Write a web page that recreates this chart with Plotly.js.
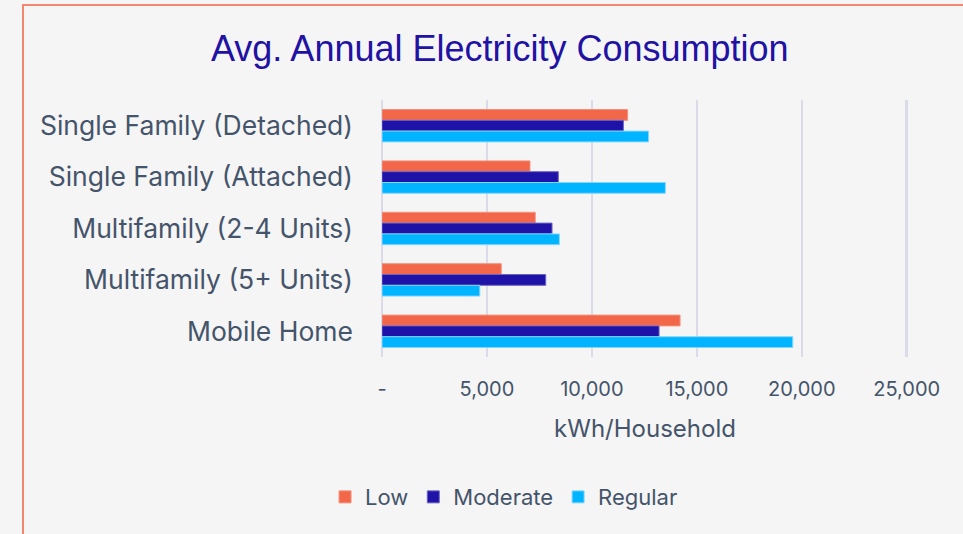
<!DOCTYPE html>
<html>
<head>
<meta charset="utf-8">
<script src="https://cdn.plot.ly/plotly-3.0.1.min.js"></script>
<style>
  html, body { margin: 0; padding: 0; background: #f5f5f5; }
  #wrap { position: relative; width: 963px; height: 534px; overflow: hidden; }
  #chart { position: absolute; left: 0; top: 0; width: 963px; height: 534px; }
  #frame { position: absolute; left: 22px; top: 4px; width: 960px; height: 560px;
           border-left: 2px solid #f4886f; border-top: 2px solid #f4886f; pointer-events: none; }
</style>
</head>
<body>
<div id="wrap">
  <div id="chart"></div>
  <div id="frame"></div>
</div>
<script>
const categories = ["Single Family (Detached)", "Single Family (Attached)", "Multifamily (2-4 Units)", "Multifamily (5+ Units)", "Mobile Home"];
const lowValues = [11700, 7050, 7300, 5680, 14200];
const moderateValues = [11500, 8400, 8100, 7800, 13200];
const regularValues = [12700, 13500, 8450, 4660, 19570];
const tickValues = [0, 5000, 10000, 15000, 20000, 25000];
const tickLabels = ["-", "5,000", "10,000", "15,000", "20,000", "25,000"];

const textColor = "#44546a";
const baseFont = "Inter, 'Noto Sans', sans-serif";

function barTrace(name, values, color, edge) {
  return {
    type: "bar", orientation: "h", name: name,
    y: categories, x: values,
    marker: { color: color, line: { color: edge, width: 1 } },
    hoverinfo: "x+name"
  };
}

const data = [
  barTrace("Low", lowValues, "#f26649", "#f4907a"),
  barTrace("Moderate", moderateValues, "#1f12a6", "#6c64c4"),
  barTrace("Regular", regularValues, "#00b4ff", "#86d6ff")
];

const layout = {
  width: 963, height: 534,
  paper_bgcolor: "#f5f5f5", plot_bgcolor: "#f5f5f5",
  margin: { l: 382, r: 55, t: 100, b: 177 },
  barmode: "group", bargap: 0.37, bargroupgap: 0,
  title: {
    text: "Avg. Annual Electricity Consumption",
    font: { family: "'Liberation Sans Narrow', 'Arial Narrow', sans-serif", size: 36, color: "#2112a3" },
    xref: "container", x: 0.519, xanchor: "center",
    yref: "container", y: 0.91, yanchor: "middle"
  },
  xaxis: {
    range: [0, 25060],
    tickvals: tickValues, ticktext: tickLabels,
    showgrid: true, gridcolor: "#dadae9", gridwidth: 2.5,
    zeroline: true, zerolinecolor: "#dadae9", zerolinewidth: 2.5,
    showline: false, ticks: "", ticklabelstandoff: 18,
    tickfont: { family: baseFont, size: 20, color: textColor },
    title: { text: "kWh/Household", font: { family: baseFont, size: 24, color: textColor }, standoff: 20 }
  },
  yaxis: {
    type: "category", autorange: "reversed",
    showgrid: false, zeroline: false, showline: false, ticks: "",
    ticklabelstandoff: 28,
    tickfont: { family: baseFont, size: 26.5, color: textColor }
  },
  legend: {
    orientation: "h", x: 0.232, xanchor: "center", y: -0.545, yanchor: "middle",
    font: { family: baseFont, size: 22, color: textColor },
    traceorder: "normal", itemwidth: 30, bgcolor: "rgba(0,0,0,0)"
  },
  showlegend: true
};

Plotly.newPlot("chart", data, layout, { displayModeBar: false, staticPlot: true });
</script>
</body>
</html>
